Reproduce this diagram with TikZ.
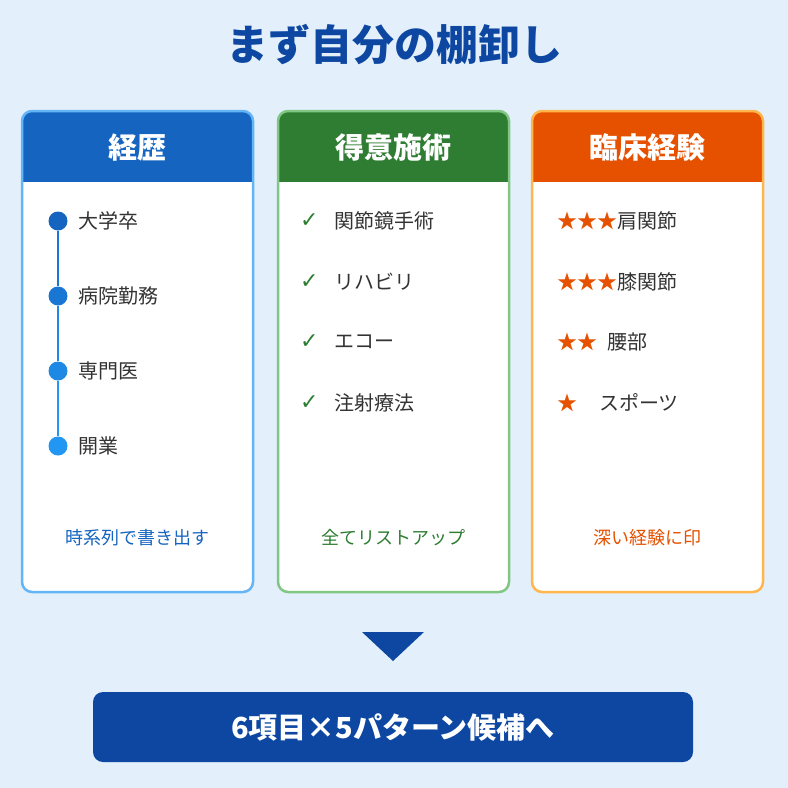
\documentclass[tikz,border=0pt]{standalone}
\usepackage{fontspec}
\setmainfont{Noto Sans CJK JP}
\newfontfamily\symfont{DejaVu Sans}
\definecolor{bg}{HTML}{E3F0FB}
\definecolor{navy}{HTML}{0D47A1}
\definecolor{cblue}{HTML}{1565C0}
\definecolor{cgreen}{HTML}{2E7D32}
\definecolor{corange}{HTML}{E65100}
\definecolor{lblue}{HTML}{64B5F6}
\definecolor{lgreen}{HTML}{81C784}
\definecolor{lorange}{HTML}{FFB74D}
\definecolor{dot1}{HTML}{1565C0}
\definecolor{dot2}{HTML}{1976D2}
\definecolor{dot3}{HTML}{1E88E5}
\definecolor{dot4}{HTML}{2196F3}
\definecolor{txt}{HTML}{333333}
\tikzset{
 item/.style={anchor=west,font=\fontsize{20}{24}\selectfont,text=txt,inner sep=0},
 head/.style={font=\bfseries\fontsize{29}{34}\selectfont,text=white},
 foot/.style={font=\fontsize{18}{22}\selectfont},
 tdot/.style={circle,minimum size=19pt,inner sep=0},
}
\begin{document}
\begin{tikzpicture}[x=1pt,y=-1pt]
\fill[bg] (0,0) rectangle (788,788);
\node[font=\bfseries\fontsize{42}{48}\selectfont,text=navy] (title) at (394,45) {まず自分の棚卸し};
% cards
\foreach \x/\c/\l/\n in {22/cblue/lblue/a,278/cgreen/lgreen/b,532/corange/lorange/c}{
 \fill[white,rounded corners=10pt] (\x,111) rectangle ++(231,481);
 \begin{scope}
 \clip[rounded corners=10pt] (\x,111) rectangle ++(231,481);
 \fill[\c] (\x,111) rectangle ++(231,71);
 \end{scope}
 \draw[\l,line width=2.5pt,rounded corners=10pt] (\x,111) rectangle ++(231,481);
}
\node[head] (h1) at (137.5,147) {経歴};
\node[head] (h2) at (393,147) {得意施術};
\node[head] (h3) at (647.5,147) {臨床経験};
% timeline
\node[tdot,fill=dot1] (d1) at (58,221) {};
\node[tdot,fill=dot2] (d2) at (58,296) {};
\node[tdot,fill=dot3] (d3) at (58,371) {};
\node[tdot,fill=dot4] (d4) at (58,446) {};
\draw[dot2,line width=2.5pt] (d1) -- (d2);
\draw[dot3,line width=2.5pt] (d2) -- (d3);
\draw[dot4,line width=2.5pt] (d3) -- (d4);
\node[item] (t1) at (78,221) {大学卒};
\node[item] (t2) at (78,296) {病院勤務};
\node[item] (t3) at (78,371) {専門医};
\node[item] (t4) at (78,446) {開業};
% checks
\foreach \y/\t/\n in {221/関節鏡手術/1,282/リハビリ/2,342/エコー/3,403/注射療法/4}{
 \node[item,text=cgreen,font=\symfont\fontsize{22}{24}\selectfont] (k\n) at (300,\y) {✓};
 \node[item] (s\n) at (334,\y) {\t};
}
% stars
\node[item] (r1) at (557,221) {\textcolor{corange}{★★★}肩関節};
\node[item] (r2) at (557,282) {\textcolor{corange}{★★★}膝関節};
\node[item] (r3) at (557,342) {\textcolor{corange}{★★}\hspace{10pt}腰部};
\node[item] (r4) at (557,403) {\textcolor{corange}{★}\hspace{22pt}スポーツ};
% footers
\node[foot,text=cblue] (f1) at (137.5,538) {時系列で書き出す};
\node[foot,text=cgreen] (f2) at (393,538) {全てリストアップ};
\node[foot,text=corange] (f3) at (647.5,538) {深い経験に印};
% arrow
\fill[navy] (362,632) -- (424,632) -- (393,661) -- cycle;
\node[fill=navy,rounded corners=10pt,minimum width=600pt,minimum height=70pt,text=white,font=\bfseries\fontsize{29}{34}\selectfont] (res) at (393,727) {6項目×5パターン候補へ};
\end{tikzpicture}
\end{document}
